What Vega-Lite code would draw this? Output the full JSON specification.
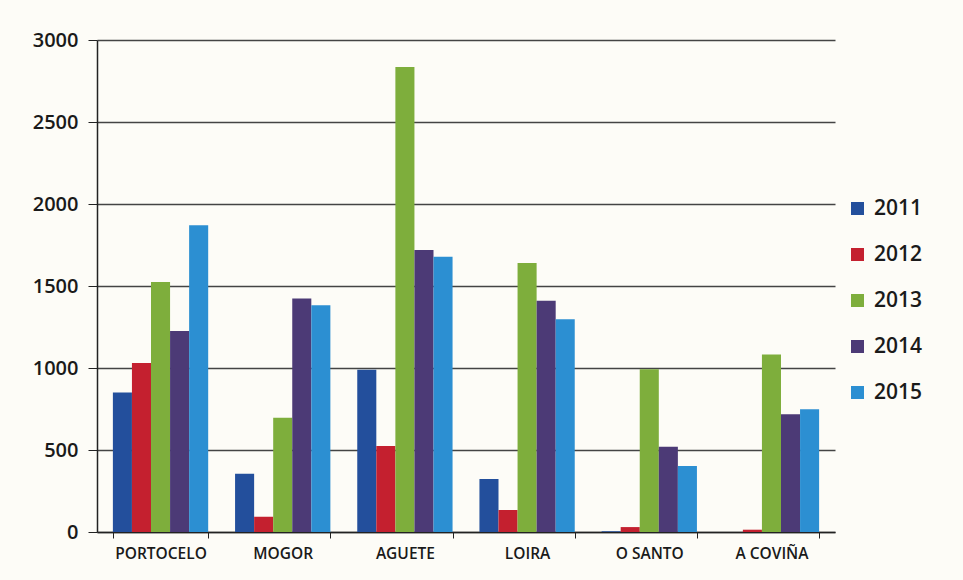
{
  "$schema": "https://vega.github.io/schema/vega-lite/v6.json",
  "width": 738,
  "height": 492,
  "autosize": {"type": "none"},
  "padding": {"left": 97, "top": 40, "right": 128, "bottom": 48},
  "background": "#fdfcf7",
  "config": {
    "view": {"stroke": null},
    "font": "Open Sans"
  },
  "data": {
    "values": [
      {"lugar": "PORTOCELO", "ano": "2011", "valor": 850},
      {"lugar": "PORTOCELO", "ano": "2012", "valor": 1030},
      {"lugar": "PORTOCELO", "ano": "2013", "valor": 1525},
      {"lugar": "PORTOCELO", "ano": "2014", "valor": 1225},
      {"lugar": "PORTOCELO", "ano": "2015", "valor": 1870},
      {"lugar": "MOGOR", "ano": "2011", "valor": 355},
      {"lugar": "MOGOR", "ano": "2012", "valor": 93},
      {"lugar": "MOGOR", "ano": "2013", "valor": 696},
      {"lugar": "MOGOR", "ano": "2014", "valor": 1424},
      {"lugar": "MOGOR", "ano": "2015", "valor": 1383},
      {"lugar": "AGUETE", "ano": "2011", "valor": 990},
      {"lugar": "AGUETE", "ano": "2012", "valor": 525},
      {"lugar": "AGUETE", "ano": "2013", "valor": 2835},
      {"lugar": "AGUETE", "ano": "2014", "valor": 1719},
      {"lugar": "AGUETE", "ano": "2015", "valor": 1678},
      {"lugar": "LOIRA", "ano": "2011", "valor": 323},
      {"lugar": "LOIRA", "ano": "2012", "valor": 134},
      {"lugar": "LOIRA", "ano": "2013", "valor": 1641},
      {"lugar": "LOIRA", "ano": "2014", "valor": 1410},
      {"lugar": "LOIRA", "ano": "2015", "valor": 1297},
      {"lugar": "O SANTO", "ano": "2011", "valor": 5},
      {"lugar": "O SANTO", "ano": "2012", "valor": 30},
      {"lugar": "O SANTO", "ano": "2013", "valor": 992},
      {"lugar": "O SANTO", "ano": "2014", "valor": 520},
      {"lugar": "O SANTO", "ano": "2015", "valor": 402},
      {"lugar": "A COVIÑA", "ano": "2011", "valor": 0},
      {"lugar": "A COVIÑA", "ano": "2012", "valor": 14},
      {"lugar": "A COVIÑA", "ano": "2013", "valor": 1082},
      {"lugar": "A COVIÑA", "ano": "2014", "valor": 718},
      {"lugar": "A COVIÑA", "ano": "2015", "valor": 748}
    ]
  },
  "mark": {"type": "bar"},
  "encoding": {
    "x": {
      "field": "lugar",
      "type": "nominal",
      "sort": ["PORTOCELO", "MOGOR", "AGUETE", "LOIRA", "O SANTO", "A COVIÑA"],
      "scale": {"paddingInner": 0.22, "paddingOuter": 0.13},
      "axis": {
        "title": null,
        "labelAngle": 0,
        "labelFontSize": 15.5,
        "labelFontWeight": 600,
        "labelColor": "#1a1a1a",
        "labelPadding": 8,
        "domainColor": "#222",
        "domainWidth": 1.5,
        "tickColor": "#222",
        "tickBand": "extent",
        "tickSize": 6,
        "grid": false
      }
    },
    "xOffset": {"field": "ano", "type": "nominal"},
    "y": {
      "field": "valor",
      "type": "quantitative",
      "scale": {"domain": [0, 3000], "nice": false},
      "axis": {
        "title": null,
        "format": "d",
        "values": [0, 500, 1000, 1500, 2000, 2500, 3000],
        "labelFontSize": 20,
        "labelFontWeight": 600,
        "labelColor": "#1a1a1a",
        "labelPadding": 10,
        "tickSize": 9,
        "tickColor": "#222",
        "domainColor": "#222",
        "domainWidth": 1.5,
        "gridColor": "#444",
        "gridWidth": 1.5
      }
    },
    "color": {
      "field": "ano",
      "type": "nominal",
      "scale": {
        "domain": ["2011", "2012", "2013", "2014", "2015"],
        "range": ["#234f9c", "#c4202f", "#7eae3c", "#4c3a76", "#2c8fd2"]
      },
      "legend": {
        "title": null,
        "orient": "none",
        "legendX": 750,
        "legendY": 158,
        "symbolType": "square",
        "symbolSize": 170,
        "symbolStrokeWidth": 0,
        "labelFontSize": 21,
        "labelFontWeight": 600,
        "labelColor": "#1a1a1a",
        "labelOffset": 6,
        "rowPadding": 24
      }
    }
  }
}
